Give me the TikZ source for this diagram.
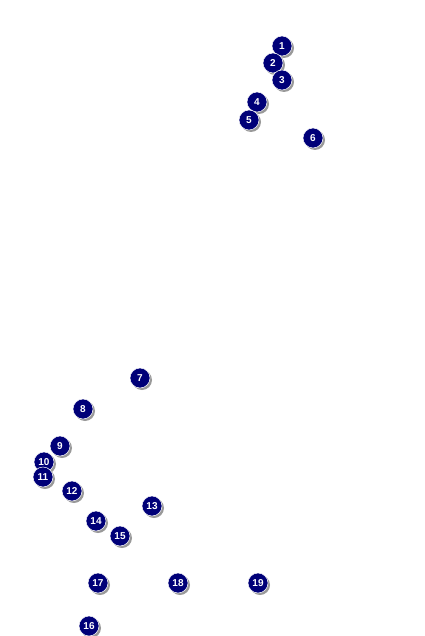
\documentclass[tikz,border=0pt]{standalone}
\usepackage{fontspec}
\setsansfont{Liberation Sans}
\usepackage{xcolor}
\usepackage{tikz}
\usetikzlibrary{shapes,shadows}

\definecolor{navymark}{RGB}{0,0,120}

\begin{document}
\begin{tikzpicture}[
        x=1pt, y=-1pt,
        marker/.style={circle, fill=navymark, draw=white, line width=0.5pt, minimum size=20pt, inner sep=0pt, text=white, font=\sffamily\bfseries\fontsize{10}{10}\selectfont, drop shadow={shadow xshift=2pt, shadow yshift=-2pt, fill=black, opacity=0.4}}
    ]
    \useasboundingbox [fill=white] (0,0) rectangle (424,636);

    % upper group
    \node [marker] (m1) at (282,46) {1};
    \node [marker] (m2) at (273,63) {2};
    \node [marker] (m3) at (282,80) {3};
    \node [marker] (m4) at (257,102) {4};
    \node [marker] (m5) at (249,120) {5};
    \node [marker] (m6) at (313,138) {6};

    % lower group
    \node [marker] (m7) at (140,378) {7};
    \node [marker] (m8) at (83,409) {8};
    \node [marker] (m9) at (60,446) {9};
    \node [marker] (m10) at (44,462) {10};
    \node [marker] (m11) at (43,477) {11};
    \node [marker] (m12) at (72,491) {12};
    \node [marker] (m13) at (152,506) {13};
    \node [marker] (m14) at (96,521) {14};
    \node [marker] (m15) at (120,536) {15};
    \node [marker] (m16) at (89,626) {16};
    \node [marker] (m17) at (98,583) {17};
    \node [marker] (m18) at (178,583) {18};
    \node [marker] (m19) at (258,583) {19};

\end{tikzpicture}
\end{document}
